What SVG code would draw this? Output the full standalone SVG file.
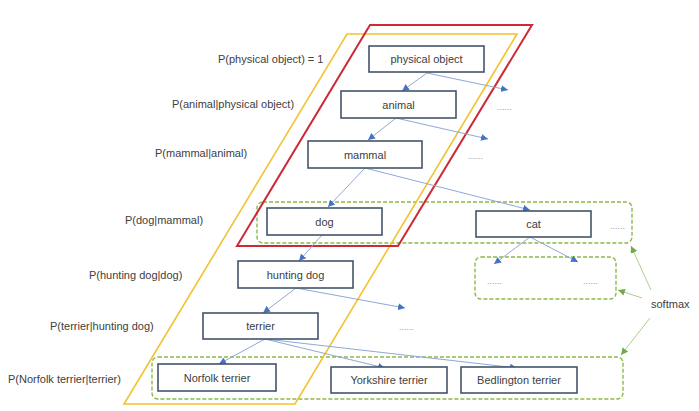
<svg xmlns="http://www.w3.org/2000/svg" width="699" height="411" viewBox="0 0 699 411">
<style>
text{font-family:"Liberation Sans",Arial,sans-serif;font-size:11px;fill:#404040}
.box rect{fill:#fff;stroke:#44546A;stroke-width:1.6}
.box text{text-anchor:middle}
.conn line{stroke:#8FA8D8;stroke-width:1}
.soft line{stroke:#A9D08E;stroke-width:1}
.grp{fill:none;stroke:#8DB84A;stroke-width:1.4;stroke-dasharray:4 2}
.dots{font-size:9px;fill:#9A9A9A}
</style>
<defs>
<marker id="ab" markerUnits="userSpaceOnUse" markerWidth="8" markerHeight="7" refX="7" refY="3.5" orient="auto"><path d="M0,0 L7,3.5 L0,7 z" fill="#4472C4"/></marker>
<marker id="ag" markerUnits="userSpaceOnUse" markerWidth="8" markerHeight="7" refX="7" refY="3.5" orient="auto"><path d="M0,0 L7,3.5 L0,7 z" fill="#70AD47"/></marker>
</defs>
<rect width="699" height="411" fill="#fff"/>
<g id="groups">
<rect class="grp" x="257" y="202" width="375" height="41" rx="6"/>
<rect class="grp" x="475" y="257" width="141" height="42" rx="6"/>
<rect class="grp" x="152" y="357" width="471" height="42" rx="6"/>
</g>
<g id="yellow-frame"><polygon points="347,34 517,34 295,404 124,404" fill="none" stroke="#F2C230" stroke-width="1.6"/></g>
<g id="red-frame"><polygon points="370,25 532,25 398,246 237,246" fill="none" stroke="#CC2A36" stroke-width="2"/></g>
<g id="labels">
<text x="218" y="63">P(physical object) = 1</text>
<text x="172" y="108">P(animal|physical object)</text>
<text x="155" y="157">P(mammal|animal)</text>
<text x="125" y="224">P(dog|mammal)</text>
<text x="89" y="279">P(hunting dog|dog)</text>
<text x="50" y="330">P(terrier|hunting dog)</text>
<text x="8" y="383">P(Norfolk terrier|terrier)</text>
</g>
<g id="connectors" class="conn">
<line x1="427" y1="73" x2="402" y2="91" marker-end="url(#ab)"/>
<line x1="427" y1="73" x2="508" y2="90" marker-end="url(#ab)"/>
<line x1="396" y1="118" x2="368" y2="140" marker-end="url(#ab)"/>
<line x1="396" y1="118" x2="488" y2="139" marker-end="url(#ab)"/>
<line x1="365" y1="168" x2="328" y2="207" marker-end="url(#ab)"/>
<line x1="365" y1="168" x2="530" y2="210" marker-end="url(#ab)"/>
<line x1="322" y1="235" x2="299" y2="261" marker-end="url(#ab)"/>
<line x1="530" y1="237" x2="494" y2="264" marker-end="url(#ab)"/>
<line x1="530" y1="237" x2="578" y2="262" marker-end="url(#ab)"/>
<line x1="296" y1="288" x2="263" y2="313" marker-end="url(#ab)"/>
<line x1="296" y1="288" x2="405" y2="308" marker-end="url(#ab)"/>
<line x1="265" y1="339" x2="219" y2="364" marker-end="url(#ab)"/>
<line x1="265" y1="339" x2="385" y2="368" marker-end="url(#ab)"/>
<line x1="265" y1="339" x2="517" y2="368" marker-end="url(#ab)"/>
</g>
<g id="softmax-links" class="soft">
<line x1="651" y1="290" x2="631" y2="246" marker-end="url(#ag)"/>
<line x1="642" y1="298" x2="618" y2="290" marker-end="url(#ag)"/>
<line x1="650" y1="318" x2="621" y2="355" marker-end="url(#ag)"/>
</g>
<g id="node-physical-object" class="box"><rect x="369" y="46" width="115" height="26"/><text x="426.5" y="63">physical object</text></g>
<g id="node-animal" class="box"><rect x="341" y="91" width="115" height="27"/><text x="398.5" y="108.5">animal</text></g>
<g id="node-mammal" class="box"><rect x="308" y="141" width="114" height="27"/><text x="365" y="158.5">mammal</text></g>
<g id="node-dog" class="box"><rect x="267" y="208" width="115" height="27"/><text x="324.5" y="225.5">dog</text></g>
<g id="node-cat" class="box"><rect x="476" y="211" width="115" height="26"/><text x="533.5" y="228">cat</text></g>
<g id="node-hunting-dog" class="box"><rect x="238" y="261" width="115" height="27"/><text x="295.5" y="278.5">hunting dog</text></g>
<g id="node-terrier" class="box"><rect x="203" y="313" width="115" height="26"/><text x="260.5" y="330">terrier</text></g>
<g id="node-norfolk" class="box"><rect x="158" y="364" width="118" height="27"/><text x="217" y="381.5">Norfolk terrier</text></g>
<g id="node-yorkshire" class="box"><rect x="331" y="367" width="116" height="26"/><text x="389" y="384">Yorkshire terrier</text></g>
<g id="node-bedlington" class="box"><rect x="461" y="367" width="116" height="26"/><text x="519" y="384">Bedlington terrier</text></g>
<g id="ellipses">
<text class="dots" x="497" y="110">......</text>
<text class="dots" x="468" y="159">......</text>
<text class="dots" x="610" y="229">......</text>
<text class="dots" x="487" y="284">......</text>
<text class="dots" x="583" y="284">......</text>
<text class="dots" x="399" y="330">......</text>
</g>
<g id="softmax"><text x="651" y="308">softmax</text></g>
</svg>
